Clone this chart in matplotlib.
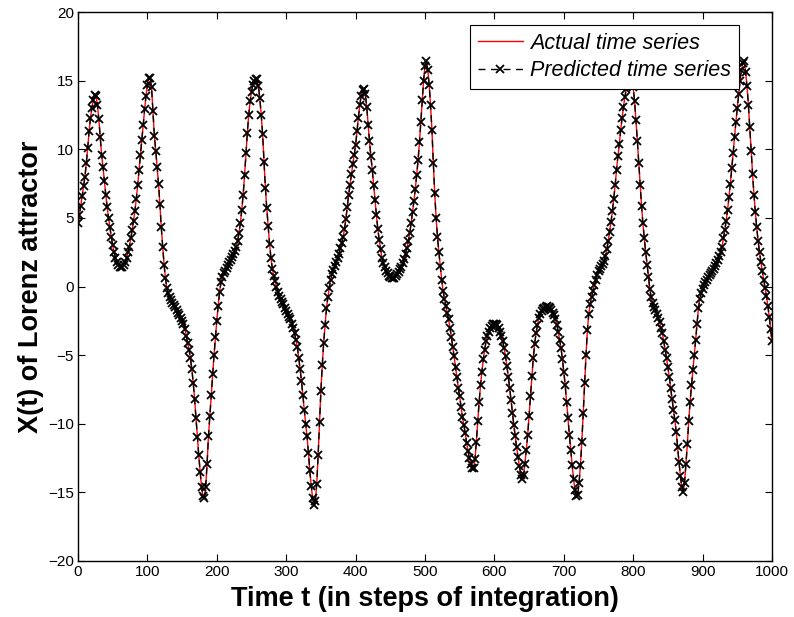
import matplotlib
matplotlib.use("Agg")
import matplotlib.pyplot as plt

plt.rcParams['font.family'] = ['Liberation Sans', 'DejaVu Sans']

# X(t) of the Lorenz attractor, every 2 steps (t = 0, 2, ..., 1000)
actual = [
    4.6, 5.2, 5.9, 6.6, 7.3, 8.0, 9.0, 10.1, 11.3, 12.3,
    13.0, 13.6, 13.95, 13.9, 13.2, 12.2, 10.9, 9.6, 8.7, 7.7,
    6.7, 5.8, 5.0, 4.3, 3.6, 3.0, 2.5, 2.1, 1.8, 1.6,
    1.45, 1.4, 1.45, 1.6, 1.8, 2.1, 2.5, 2.9, 3.5, 4.1,
    4.8, 5.5, 6.4, 7.4, 8.5, 9.6, 10.7, 11.8, 12.9, 13.9,
    14.7, 15.2, 15.2, 14.5, 12.8, 11.0, 9.9, 8.7, 7.5, 6.0,
    4.3, 2.9, 1.6, 0.6, -0.1, -0.5, -0.8, -1.0, -1.2, -1.35,
    -1.5, -1.7, -1.9, -2.1, -2.3, -2.5, -2.7, -3.1, -3.6, -4.1,
    -4.6, -5.2, -6.0, -7.0, -8.2, -9.6, -11.0, -12.3, -13.5, -14.6,
    -15.3, -15.4, -14.6, -12.9, -10.9, -9.4, -7.9, -6.4, -5.0, -3.7,
    -2.5, -1.4, -0.4, 0.3, 0.7, 0.95, 1.15, 1.35, 1.55, 1.75,
    1.95, 2.15, 2.35, 2.6, 2.9, 3.3, 3.9, 4.6, 5.6, 6.7,
    8.1, 9.7, 11.2, 12.5, 13.5, 14.2, 14.7, 15.0, 15.15, 15.1,
    14.6, 13.7, 12.5, 11.1, 9.1, 7.2, 5.7, 4.4, 3.1, 2.1,
    1.3, 0.8, 0.4, 0.0, -0.4, -0.7, -0.9, -1.1, -1.3, -1.55,
    -1.8, -2.0, -2.2, -2.4, -2.7, -3.0, -3.4, -3.9, -4.4, -5.2,
    -6.0, -6.9, -7.9, -9.0, -10.0, -10.9, -12.1, -13.4, -14.5, -15.4,
    -15.9, -15.6, -14.4, -12.3, -9.9, -7.6, -5.7, -4.1, -2.8, -1.6,
    -0.8, -0.1, 0.5, 0.9, 1.2, 1.5, 1.8, 2.1, 2.4, 2.8,
    3.2, 3.6, 4.2, 4.9, 5.8, 6.7, 7.4, 8.2, 8.9, 9.6,
    10.3, 11.3, 12.3, 13.2, 13.9, 14.3, 14.4, 14.0, 13.1, 11.8,
    10.6, 9.5, 8.5, 7.4, 6.3, 5.2, 4.2, 3.4, 2.7, 2.1,
    1.7, 1.4, 1.15, 0.95, 0.8, 0.7, 0.65, 0.6, 0.65, 0.75,
    0.9, 1.05, 1.25, 1.45, 1.7, 2.0, 2.4, 2.8, 3.3, 3.9,
    4.6, 5.4, 6.2, 7.1, 8.1, 9.2, 10.5, 12.0, 13.6, 15.0,
    16.1, 16.4, 15.8, 14.7, 13.2, 11.4, 9.0, 6.8, 5.0, 3.6,
    2.5, 1.5, 0.5, -0.3, -0.9, -1.4, -1.9, -2.4, -3.0, -3.7,
    -4.4, -5.1, -5.9, -6.6, -7.4, -8.0, -8.8, -9.5, -10.1, -10.7,
    -11.4, -12.0, -12.5, -12.9, -13.2, -13.2, -12.6, -11.3, -9.8, -8.4,
    -7.2, -6.2, -5.3, -4.6, -4.0, -3.6, -3.3, -3.0, -2.85, -2.75,
    -2.7, -2.7, -2.8, -3.0, -3.3, -3.6, -4.0, -4.5, -5.1, -5.8,
    -6.6, -7.4, -8.3, -9.2, -10.1, -10.9, -11.7, -12.4, -13.1, -13.7,
    -14.0, -13.7, -12.9, -11.9, -10.8, -9.4, -8.0, -6.5, -5.2, -4.2,
    -3.4, -2.8, -2.3, -2.0, -1.8, -1.65, -1.55, -1.5, -1.45, -1.5,
    -1.55, -1.7, -1.9, -2.1, -2.4, -2.8, -3.3, -3.9, -4.5, -5.3,
    -6.2, -7.2, -8.4, -9.6, -10.8, -11.9, -13.0, -14.0, -14.8, -15.3,
    -15.2, -14.3, -13.0, -11.3, -9.2, -7.0, -5.0, -3.2, -2.0, -1.3,
    -0.8, -0.3, 0.1, 0.5, 0.85, 1.1, 1.3, 1.5, 1.65, 1.85,
    2.2, 2.7, 3.3, 4.0, 4.7, 5.5, 6.4, 7.4, 8.5, 9.5,
    10.4, 11.4, 12.3, 13.1, 13.8, 14.4, 15.0, 15.5, 15.7, 15.3,
    14.5, 13.5, 12.1, 10.6, 9.0, 7.4, 5.9, 4.6, 3.5, 2.5,
    1.6, 0.7, -0.2, -0.8, -1.2, -1.5, -1.7, -2.0, -2.3, -2.6,
    -3.0, -3.4, -4.0, -4.6, -5.2, -5.9, -6.6, -7.4, -8.2, -9.0,
    -9.7, -10.6, -11.7, -12.8, -13.8, -14.6, -15.0, -14.3, -12.9, -11.5,
    -9.8, -8.4, -7.2, -6.1, -5.0, -3.9, -2.7, -1.6, -0.9, -0.5,
    -0.2, 0.1, 0.3, 0.5, 0.7, 0.85, 1.0, 1.15, 1.3, 1.5,
    1.7, 1.95, 2.2, 2.5, 2.9, 3.5, 4.1, 4.8, 5.6, 6.5,
    7.5, 8.6, 9.7, 10.9, 12.0, 13.0, 14.0, 15.0, 15.8, 16.3,
    16.4, 15.6, 14.6, 13.2, 11.6, 9.9, 8.2, 6.7, 5.4, 4.3,
    3.3, 2.5, 1.8, 1.1, 0.5, -0.1, -0.7, -1.4, -2.2, -3.1,
    -4.0,
]
t = list(range(0, 1001, 2))
# the prediction lies on top of the actual series
predicted = list(actual)

fig = plt.figure(figsize=(7.94, 6.17), dpi=100)
ax = fig.add_axes([78 / 794, 56 / 617, 694 / 794, 549 / 617])

ax.plot(t, actual, color='red', lw=1.0, label='Actual time series', zorder=2)
ax.plot(t, predicted, color='black', ls='--', dashes=(5, 4), lw=1.0, marker='x',
        markersize=5.5, markeredgewidth=1.3, label='Predicted time series', zorder=3)

ax.set_xlim(0, 1000)
ax.set_ylim(-20, 20)
ax.set_xticks(range(0, 1001, 100))
ax.set_yticks(range(-20, 21, 5))
ax.tick_params(direction='in', top=True, right=True, length=5, width=0.8,
               labelsize=11, pad=3)
for s in ax.spines.values():
    s.set_linewidth(1.0)

ax.set_xlabel('Time t (in steps of integration)', fontsize=19.5, fontweight='bold', labelpad=5)
ax.set_ylabel('X(t) of Lorenz attractor', fontsize=19.5, fontweight='bold', labelpad=3)

leg = ax.legend(loc='upper right', bbox_to_anchor=(0.9524, 0.976), borderaxespad=0,
                prop={'style': 'italic', 'size': 15.5}, fancybox=False, framealpha=1,
                edgecolor='black', handlelength=2.1, borderpad=0.35, labelspacing=0.3,
                handletextpad=0.35)
leg.get_frame().set_linewidth(0.8)

fig.savefig('out.png', dpi=100)
